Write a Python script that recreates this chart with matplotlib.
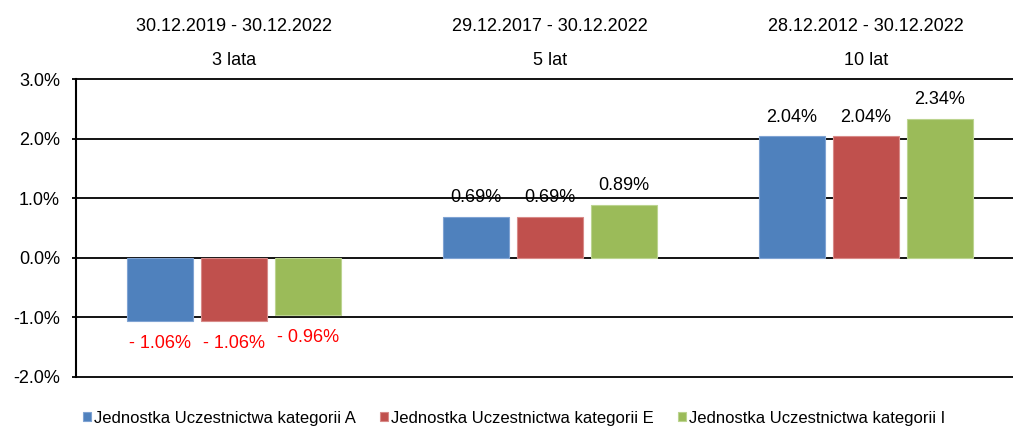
import matplotlib
matplotlib.use("Agg")
import matplotlib.pyplot as plt
import numpy as np

plt.rcParams['font.family'] = ['Liberation Sans', 'DejaVu Sans']

periods = ["30.12.2019 - 30.12.2022", "29.12.2017 - 30.12.2022", "28.12.2012 - 30.12.2022"]
horizons = ["3 lata", "5 lat", "10 lat"]
series_names = ["Jednostka Uczestnictwa kategorii A",
                "Jednostka Uczestnictwa kategorii E",
                "Jednostka Uczestnictwa kategorii I"]
values_A = [-1.06, 0.69, 2.04]
values_E = [-1.06, 0.69, 2.04]
values_I = [-0.96, 0.89, 2.34]
yticks = [-2, -1, 0, 1, 2, 3]

colors = ["#4F81BD", "#C0504D", "#9BBB59"]
edges = ["#7FA3D3", "#D88A88", "#BCD490"]

W, H = 1013, 428
fig = plt.figure(figsize=(W / 100, H / 100), dpi=100)
ax = fig.add_axes([76 / W, 51.5 / H, 948 / W, 297.2 / H])

x = np.arange(len(periods))
pitch = 0.234
width = 0.211
handles = []
for k, (vals, c, ec, name) in enumerate(zip([values_A, values_E, values_I], colors, edges, series_names)):
    pos = x + (k - 1) * pitch
    bars = ax.bar(pos, vals, width=width, color=c, edgecolor=ec, linewidth=0.8, zorder=3, label=name)
    handles.append(bars[0])
    for p, v in zip(pos, vals):
        if v >= 0:
            ax.annotate(f"{v:.2f}%", xy=(p, v), xytext=(0, 10.5), textcoords="offset points",
                        ha="center", va="baseline", fontsize=13, color="black", zorder=4)
        else:
            ax.annotate(f"- {abs(v):.2f}%", xy=(p, v), xytext=(0, -19.5), textcoords="offset points",
                        ha="center", va="baseline", fontsize=13, color="#FF0000", zorder=4)

for i, (per, hz) in enumerate(zip(periods, horizons)):
    ax.annotate(per, xy=(i, 1), xycoords=("data", "axes fraction"), xytext=(0, 34.5),
                textcoords="offset points", ha="center", va="baseline", fontsize=13)
    ax.annotate(hz, xy=(i, 1), xycoords=("data", "axes fraction"), xytext=(0, 10.4),
                textcoords="offset points", ha="center", va="baseline", fontsize=13)

ax.set_xlim(-0.5, 2.5)
ax.set_ylim(-2, 3)
ax.set_yticks(yticks)
ax.set_yticklabels([f"{t:.1f}%" for t in yticks], fontsize=13)
ax.set_xticks([])
ax.set_axisbelow(True)
ax.yaxis.grid(True, color="black", linewidth=1.3)
for gl in ax.get_ygridlines():
    gl.set_clip_on(False)
for s in ["top", "right", "bottom"]:
    ax.spines[s].set_visible(False)
ax.spines["left"].set_linewidth(1.5)
ax.spines["left"].set_color("black")
ax.tick_params(axis="y", direction="out", length=2.9, width=1.3, pad=8.6, colors="black")

fig.legend(handles, series_names, loc="center", bbox_to_anchor=(514 / W, 1 - 418 / H),
           ncol=3, frameon=False, handlelength=0.5, handleheight=0.5, handletextpad=0.15,
           columnspacing=1.45, fontsize=12)

fig.savefig("out.png", dpi=100)
